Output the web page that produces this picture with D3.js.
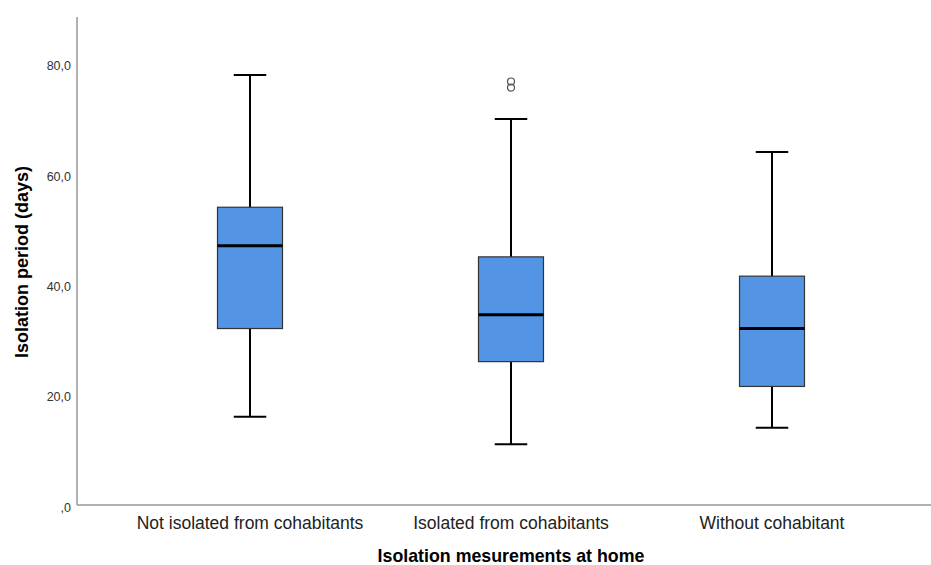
<!DOCTYPE html>
<html>
<head>
<meta charset="utf-8">
<script src="https://cdn.jsdelivr.net/npm/d3@7"></script>
<style>
body { margin: 0; background: #fff; overflow: hidden; }
svg { display: block; }
text { font-family: "Liberation Sans", Arial, sans-serif; }
</style>
</head>
<body>
<div id="canvas"></div>
<script>
var groups = ["Not isolated from cohabitants", "Isolated from cohabitants", "Without cohabitant"]
var whiskerLow = [16, 11, 14]
var q1 = [32, 26, 21.5]
var medians = [47, 34.5, 32]
var q3 = [54, 45, 41.5]
var whiskerHigh = [78, 70, 64]
var outliers = [[], [76.8, 75.7], []]
var yTicks = [0, 20, 40, 60, 80]

var width = 931
var height = 565
var left = 77
var bottom = 505
var plotTop = 17

var svg = d3.select("#canvas")
    .append("svg")
    .attr("width", width)
    .attr("height", height)

var xScale = d3.scaleBand().domain(groups).range([119.5, 902.5])
var yScale = d3.scaleLinear().domain([0, 88.5]).range([bottom, plotTop])

var boxW = 65

// y axis labels
svg.selectAll(".ylab")
    .data(yTicks)
    .enter()
    .append("text")
    .attr("x", left - 6)
    .attr("y", function (d) { return yScale(d) + 6.5 })
    .attr("text-anchor", "end")
    .style("font-size", "12.5px")
    .style("fill", "#333")
    .text(function (d) { return d === 0 ? ",0" : d.toFixed(1).replace(".", ",") })

// axes lines
svg.append("line")
    .attr("x1", left).attr("x2", left)
    .attr("y1", plotTop).attr("y2", bottom)
    .attr("stroke", "#999").attr("stroke-width", 1.5)
svg.append("line")
    .attr("x1", left).attr("x2", width)
    .attr("y1", bottom).attr("y2", bottom)
    .attr("stroke", "#999").attr("stroke-width", 1.5)

// x labels
svg.selectAll(".xlab")
    .data(groups)
    .enter()
    .append("text")
    .attr("x", function (d) { return xScale(d) + xScale.bandwidth() / 2 })
    .attr("y", 529)
    .attr("text-anchor", "middle")
    .style("font-size", "17.5px")
    .style("fill", "#222")
    .text(function (d) { return d })

// titles
svg.append("text")
    .attr("x", 511)
    .attr("y", 562)
    .attr("text-anchor", "middle")
    .style("font-size", "17.8px")
    .style("font-weight", "bold")
    .text("Isolation mesurements at home")

svg.append("text")
    .attr("transform", "translate(28,262) rotate(-90)")
    .attr("text-anchor", "middle")
    .style("font-size", "18px")
    .style("font-weight", "bold")
    .text("Isolation period (days)")

var boxes = svg.selectAll(".box")
    .data(groups)
    .enter()
    .append("g")
    .attr("transform", function (d) { return `translate(${xScale(d) + xScale.bandwidth() / 2},0)` })

// whiskers
boxes.append("line")
    .attr("x1", 0).attr("x2", 0)
    .attr("y1", function (d, i) { return yScale(whiskerHigh[i]) })
    .attr("y2", function (d, i) { return yScale(whiskerLow[i]) })
    .attr("stroke", "#000").attr("stroke-width", 2)

boxes.append("line")
    .attr("x1", -boxW / 4).attr("x2", boxW / 4)
    .attr("y1", function (d, i) { return yScale(whiskerHigh[i]) })
    .attr("y2", function (d, i) { return yScale(whiskerHigh[i]) })
    .attr("stroke", "#000").attr("stroke-width", 2)

boxes.append("line")
    .attr("x1", -boxW / 4).attr("x2", boxW / 4)
    .attr("y1", function (d, i) { return yScale(whiskerLow[i]) })
    .attr("y2", function (d, i) { return yScale(whiskerLow[i]) })
    .attr("stroke", "#000").attr("stroke-width", 2)

boxes.append("rect")
    .attr("x", -boxW / 2)
    .attr("width", boxW)
    .attr("y", function (d, i) { return yScale(q3[i]) })
    .attr("height", function (d, i) { return yScale(q1[i]) - yScale(q3[i]) })
    .attr("fill", "#5494e4")
    .attr("stroke", "#333")
    .attr("stroke-width", 1.2)

boxes.append("line")
    .attr("x1", -boxW / 2).attr("x2", boxW / 2)
    .attr("y1", function (d, i) { return yScale(medians[i]) })
    .attr("y2", function (d, i) { return yScale(medians[i]) })
    .attr("stroke", "#000").attr("stroke-width", 3)

boxes.each(function (d, i) {
    d3.select(this).selectAll("circle")
        .data(outliers[i])
        .enter()
        .append("circle")
        .attr("cx", 0)
        .attr("cy", function (v) { return yScale(v) })
        .attr("r", 3.5)
        .attr("fill", "none")
        .attr("stroke", "#555")
        .attr("stroke-width", 1.2)
})
</script>
</body>
</html>
